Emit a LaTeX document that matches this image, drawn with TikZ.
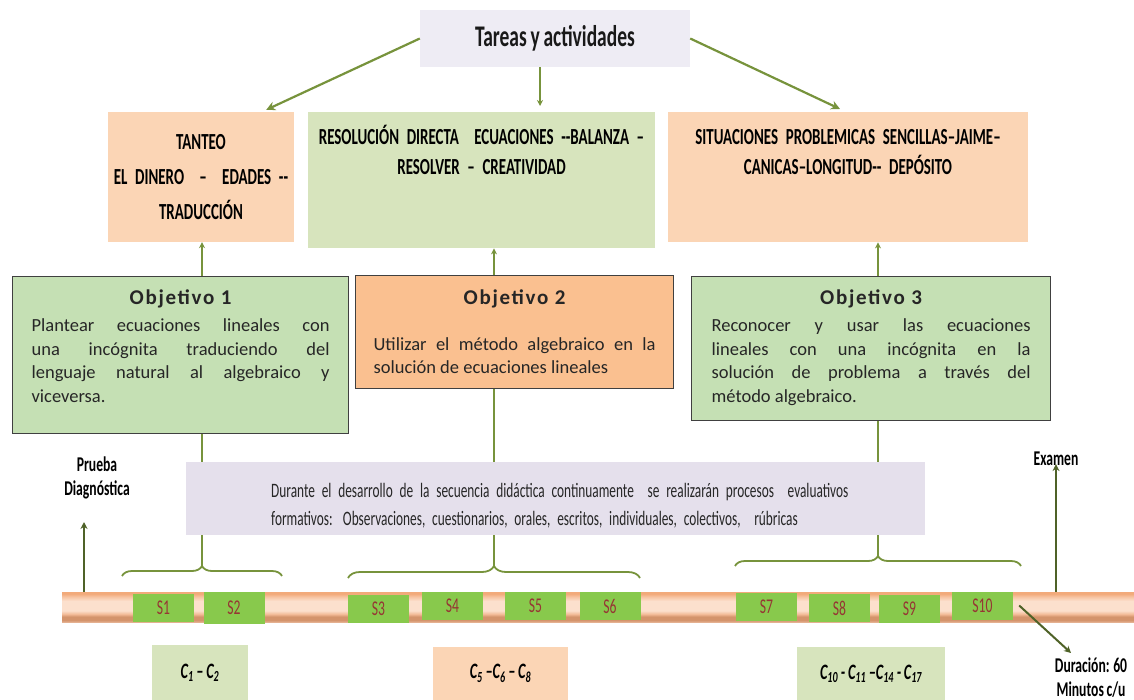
\documentclass[tikz,border=0pt]{standalone}
\usepackage{fontspec}
\setmainfont{Carlito}
\newfontfamily\narrowfont[FakeStretch=0.65,WordSpace=0.85]{Carlito}
\newfontfamily\titlefont[LetterSpace=8]{Carlito}
\usetikzlibrary{calc,arrows.meta,decorations.pathreplacing}

\definecolor{olive}{RGB}{119,147,60}
\definecolor{darkolive}{RGB}{79,98,40}
\definecolor{topbg}{RGB}{238,236,244}
\definecolor{peach}{RGB}{251,213,181}
\definecolor{lgreen}{RGB}{215,228,189}
\definecolor{objgreen}{RGB}{197,224,180}
\definecolor{objorange}{RGB}{250,192,144}
\definecolor{evalbg}{RGB}{229,224,236}
\definecolor{sgreen}{RGB}{136,201,76}
\definecolor{slabel}{RGB}{150,54,52}
\definecolor{bartop}{RGB}{242,170,122}
\definecolor{barbase}{RGB}{247,196,162}
\definecolor{barlight}{RGB}{252,224,205}
\definecolor{barmid}{RGB}{242,186,150}
\definecolor{bardark}{RGB}{212,148,108}
\definecolor{barlow}{RGB}{228,176,144}
\pgfdeclareverticalshading{tubeshade}{100bp}{color(0bp)=(barlow); color(25bp)=(barlow); color(28bp)=(bardark);
	color(34bp)=(bardark); color(38bp)=(barmid); color(44bp)=(barlight); color(60bp)=(barlight);
	color(67bp)=(barbase); color(72bp)=(bartop); color(100bp)=(bartop)}

\tikzset{
	topbox/.style={fill=topbg, inner sep=0pt, text=black!90, font=\narrowfont\bfseries\fontsize{30}{34}\selectfont},
	taskbox/.style={inner sep=0pt, align=center, font=\narrowfont\bfseries\fontsize{23}{30}\selectfont},
	objbox/.style={draw=black!75, line width=1.2pt, inner ysep=0pt, align=justify, text=black!85,
		font=\fontsize{18.5}{23.5}\selectfont},
	evalbox/.style={fill=evalbg, inner sep=0pt, align=left, text=black!85, font=\narrowfont\fontsize{20.5}{28}\selectfont},
	sbox/.style={fill=sgreen, minimum width=61, minimum height=28, inner sep=0pt, text=slabel,
		font=\narrowfont\fontsize{21}{22}\selectfont},
	cbox/.style={inner sep=0pt, font=\narrowfont\bfseries\itshape\fontsize{22}{24}\selectfont},
	note/.style={inner sep=0pt, align=center, font=\narrowfont\bfseries\fontsize{21}{24}\selectfont},
	tube/.style={inner sep=0pt, shading=tubeshade},
	link/.style={draw=olive, line width=2.2pt, -{Stealth[length=9pt,width=9pt]}},
	uplink/.style={draw=olive, line width=1.5pt, -{Stealth[length=6pt,width=6pt]}},
	stem/.style={draw=olive, line width=1.8pt},
	curly/.style={draw=olive, line width=1.8pt, decorate},
	darrow/.style={draw=darkolive, line width=2pt, -{Stealth[length=7pt,width=7pt]}}
}
\newcommand{\objtitle}{\titlefont\bfseries\fontsize{21}{24}\selectfont}

\begin{document}
\begin{tikzpicture}[x=1pt,y=-1pt]
	\useasboundingbox (0,0) rectangle (1134,700);

	% tareas
	\node (tareas) at (555,38.5) [topbox, minimum width=270, minimum height=57] {Tareas y actividades};
	\node (tanteo) at (201,177) [taskbox, fill=peach, text width=186, minimum height=130]
		{TANTEO\\[5pt]EL DINERO \ – \ EDADES -{}-\\[5pt]TRADUCCIÓN};
	\node (resol) at (481.5,112) [taskbox, anchor=north, fill=lgreen, text width=347, text height=32, text depth=104]
		{RESOLUCIÓN DIRECTA \ ECUACIONES -{}-BALANZA –\\RESOLVER – CREATIVIDAD};
	\node (situ) at (848,112) [taskbox, anchor=north, fill=peach, text width=360, text height=32, text depth=98]
		{SITUACIONES PROBLEMICAS SENCILLAS–JAIME–\\CANICAS–LONGITUD-{}- DEPÓSITO};

	\draw[link] (tareas.west) -- ($(tanteo.north)!0.7!(tanteo.north east)+(0,-2)$);
	\draw[link] (tareas.east) -- ($(situ.north)+(-8,-3)$);
	\draw[uplink] ($(tareas.south)+(-15,0)$) -- ($(resol.north)+(58.5,-6)$);

	% objetivos
	\coordinate (t1) at (202,566);
	\coordinate (t2) at (494,566);
	\coordinate (t3) at (878,556);

	\node (obj1) at (12,276) [objbox, anchor=north west, fill=objgreen, text width=298, inner xsep=19,
		text height=28, text depth=129]
		{{\centering\objtitle Objetivo 1\par}\vspace{3.5pt}Plantear ecuaciones lineales con\linebreak
		una incógnita traduciendo del\linebreak lenguaje natural al algebraico y\linebreak viceversa.};
	\node (obj2) at (355,275) [objbox, anchor=north west, fill=objorange, text width=282, inner xsep=18,
		text height=29, text depth=84]
		{{\centering\objtitle Objetivo 2\par}\vspace{22pt}Utilizar el método algebraico en la\linebreak
		solución de ecuaciones lineales};
	\node (obj3) at (691,276) [objbox, anchor=north west, fill=objgreen, text width=319, inner xsep=20,
		text height=28, text depth=116]
		{{\centering\objtitle Objetivo 3\par}\vspace{3.5pt}Reconocer y usar las ecuaciones\linebreak
		lineales con una incógnita en la\linebreak solución de problema a través del\linebreak método algebraico.};

	\draw[uplink] (obj1.north -| t1) -- (tanteo.south -| t1);
	\draw[uplink] (obj2.north -| t2) -- (resol.south -| t2);
	\draw[uplink] (obj3.north -| t3) -- (situ.south -| t3);
	\draw[stem] (obj1.south -| t1) -- (t1);
	\draw[stem] (obj2.south -| t2) -- (t2);
	\draw[stem] (obj3.south -| t3) -- (t3);

	% evaluacion
	\node (eval) at (186,462) [evalbox, anchor=north west, text width=739, text height=35, text depth=38]
		{\hspace*{85pt}Durante el desarrollo de la secuencia didáctica continuamente \ se realizarán procesos \ evaluativos\\
		\hspace*{85pt}formativos: Observaciones, cuestionarios, orales, escritos, individuales, colectivos, \ rúbricas};

	\draw[curly, decoration={brace, amplitude=10pt}] (122,576) -- (282,576);
	\draw[curly, decoration={brace, amplitude=12pt}] (348,578) -- (640,578);
	\draw[curly, decoration={brace, amplitude=10pt}] (735,566) -- (1021,566);

	% linea de sesiones
	\node (bar) at (598,607) [tube, minimum width=1072, minimum height=30] {};

	\node (s1) at (163.5,608) [sbox] {S1};
	\node (s2) at (234,608) [sbox, minimum height=32] {S2};
	\node (s3) at (378.5,608.5) [sbox] {S3};
	\node (s4) at (452.5,606) [sbox] {S4};
	\node (s5) at (535.5,606) [sbox] {S5};
	\node (s6) at (610,606) [sbox] {S6};
	\node (s7) at (766.5,606.5) [sbox] {S7};
	\node (s8) at (839.5,608) [sbox] {S8};
	\node (s9) at (909.5,609) [sbox] {S9};
	\node (s10) at (982.5,605.5) [sbox] {S10};

	\node (prueba) at (97,478) [note] {Prueba\\Diagnóstica};
	\node (examen) at (1056,459) [note] {Examen};
	\node (durac) at (1091,678) [note] {Duración: 60\\Minutos c/u};
	\coordinate (pd) at (84,522);
	\coordinate (dd) at (1071,653);

	\draw[darrow] (bar.north -| pd) -- (pd);
	\draw[darrow] (examen.south |- bar.north) -- ($(examen.south)+(0,-2)$);
	\draw[darrow] ([xshift=6pt]s10.east) -- (dd);

	% contenidos
	\node (c1) at (200,672.5) [cbox, fill=lgreen, minimum width=96, minimum height=55] {C\textsubscript{1} – C\textsubscript{2}};
	\node (c2) at (500.5,673.5) [cbox, fill=peach, minimum width=135, minimum height=53] {C\textsubscript{5} –C\textsubscript{6} – C\textsubscript{8}};
	\node (c3) at (871,673.5) [cbox, fill=lgreen, minimum width=148, minimum height=53] {C\textsubscript{10} - C\textsubscript{11} –C\textsubscript{14} - C\textsubscript{17}};
\end{tikzpicture}
\end{document}
